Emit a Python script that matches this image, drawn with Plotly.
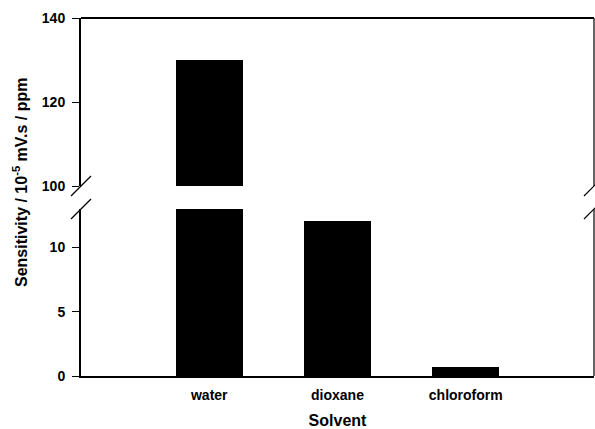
import plotly.graph_objects as go

solvents = ["water", "dioxane", "chloroform"]
sensitivity = [130, 12.1, 0.7]
positions = [0, 1, 2]
lower_ticks = [0, 5, 10]
upper_ticks = [100, 120, 140]

FONT = "Liberation Sans, Arial, sans-serif"

fig = go.Figure()
fig.add_trace(go.Bar(x=positions, y=sensitivity, width=0.52, marker=dict(color="black", line=dict(width=0)),
                     xaxis="x", yaxis="y", showlegend=False))
fig.add_trace(go.Bar(x=positions, y=sensitivity, width=0.52, marker=dict(color="black", line=dict(width=0)),
                     xaxis="x2", yaxis="y2", showlegend=False))

W, H = 595, 429
ml, mr, mt, mb = 81, 1, 18, 53
ph = H - mt - mb
def py(px):
    return (H - mb - px) / ph
pw = W - ml - mr
def px_(x):
    return (x - ml) / pw

low_dom = [0, py(209)]
up_dom = [py(186), 1]

tickfont = dict(family=FONT, size=14, color="black", weight="bold")

fig.update_layout(
    width=W, height=H,
    margin=dict(l=ml, r=mr, t=mt, b=mb),
    paper_bgcolor="white", plot_bgcolor="white",
    bargap=0,
    xaxis=dict(domain=[0, 1], range=[-1, 3], tickvals=positions, ticktext=solvents,
               showline=True, linewidth=2, linecolor="black", ticks="",
               tickfont=dict(family=FONT, size=14, color="black", weight="bold"),
               ticklabelstandoff=5, showgrid=False, zeroline=False, anchor="y",
               title=dict(text="Solvent", font=dict(family=FONT, size=16, color="black", weight="bold"), standoff=15)),
    xaxis2=dict(domain=[0, 1], range=[-1, 3], showticklabels=False, showline=False, ticks="",
                showgrid=False, zeroline=False, anchor="y2", matches="x"),
    yaxis=dict(domain=low_dom, range=[0, 13], tickvals=lower_ticks, showline=True, linewidth=2,
               linecolor="black", ticks="outside", ticklen=7, tickwidth=1, tickcolor="black",
               tickfont=tickfont, ticklabelstandoff=4, showgrid=False, zeroline=False, anchor="x"),
    yaxis2=dict(domain=up_dom, range=[100, 140], tickvals=upper_ticks, showline=True, linewidth=2,
                linecolor="black", ticks="outside", ticklen=7, tickwidth=1, tickcolor="black",
                tickfont=tickfont, ticklabelstandoff=4, showgrid=False, zeroline=False, anchor="x2"),
)

shapes = []
# top border
shapes.append(dict(type="line", xref="paper", yref="paper", x0=0, x1=1, y0=1, y1=1,
                   line=dict(color="black", width=2)))
# right borders
shapes.append(dict(type="line", xref="paper", yref="paper", x0=1, x1=1, y0=up_dom[0], y1=1,
                   line=dict(color="black", width=1.2)))
shapes.append(dict(type="line", xref="paper", yref="paper", x0=1, x1=1, y0=0, y1=low_dom[1],
                   line=dict(color="black", width=1.2)))
# break marks
dx = 10 / pw
dy = 10 / ph
for xc in (0, 1):
    for yc in (up_dom[0], low_dom[1]):
        shapes.append(dict(type="line", xref="paper", yref="paper",
                           x0=xc - dx, x1=xc + dx, y0=yc - dy, y1=yc + dy,
                           line=dict(color="black", width=1.2)))
fig.update_layout(shapes=shapes)

fig.add_annotation(text="Sensitivity / 10<sup>-5</sup> mV.s / ppm", xref="paper", yref="paper",
                   x=px_(20), y=py(183), textangle=-90, showarrow=False,
                   font=dict(family=FONT, size=16, color="black", weight="bold"),
                   xanchor="center", yanchor="middle")

fig.write_html("out.html")
